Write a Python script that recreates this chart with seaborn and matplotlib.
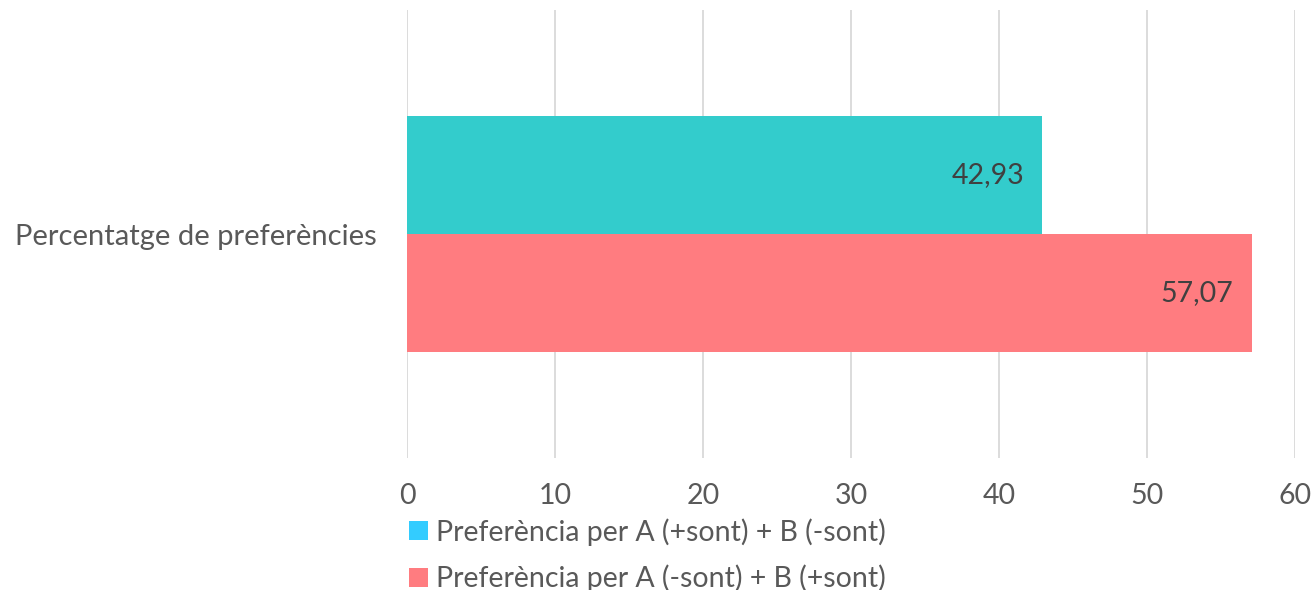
import matplotlib
matplotlib.use("Agg")
import matplotlib.pyplot as plt
from matplotlib.patches import Patch
import seaborn as sns
import pandas as pd

category = ["Percentatge de preferències"]
series = ["Preferència per A (+sont) + B (-sont)", "Preferència per A (-sont) + B (+sont)"]
values = [42.93, 57.07]
value_labels = ["42,93", "57,07"]
bar_colors = ["#33CCCC", "#FF7C80"]
legend_colors = ["#33CCFF", "#FF7C80"]
xticks = [0, 10, 20, 30, 40, 50, 60]

sns.set_theme(style="white")
plt.rcParams["font.family"] = ["Lato", "DejaVu Sans"]

FS = 20.5

df = pd.DataFrame({"cat": category * len(series), "series": series, "value": values})

fig = plt.figure(figsize=(13.14, 5.90), dpi=100)
ax = fig.add_axes([407/1314, 1 - 458/590, (1295 - 407)/1314, (458 - 10)/590])

sns.barplot(data=df, y="cat", x="value", hue="series", orient="h",
            palette=bar_colors, width=0.525, ax=ax, legend=False, saturation=1,
            linewidth=0)

ax.set_xlim(0, 60)
ax.set_ylim(0.5, -0.5)
ax.set_xticks(xticks)
ax.set_xticklabels([str(t) for t in xticks])
ax.grid(axis="x", color="#D9D9D9", linewidth=1.3)
ax.set_axisbelow(True)
for s in ax.spines.values():
    s.set_visible(False)
ax.tick_params(axis="x", length=0, pad=18, labelsize=FS, labelcolor="#595959")
ax.tick_params(axis="y", length=0, pad=22, labelsize=FS + 0.5, labelcolor="#595959")
ax.set_xlabel("")
ax.set_ylabel("")

for cont, lab in zip(ax.containers, value_labels):
    for p in cont.patches:
        ax.annotate(lab, xy=(p.get_width(), p.get_y() + p.get_height() / 2),
                    xytext=(-13, 0), textcoords="offset points",
                    ha="right", va="center", fontsize=FS, color="#404040")

handles = [Patch(facecolor=c, edgecolor="none") for c in legend_colors]
fig.legend(handles, series, loc="upper left", bbox_to_anchor=(409/1314, 1 - 518/590),
           frameon=False, fontsize=FS, labelcolor="#595959", handlelength=0.65,
           handleheight=0.65, handletextpad=0.3, labelspacing=0.67, borderaxespad=0,
           borderpad=0)

fig.savefig("out.png", dpi=100)
